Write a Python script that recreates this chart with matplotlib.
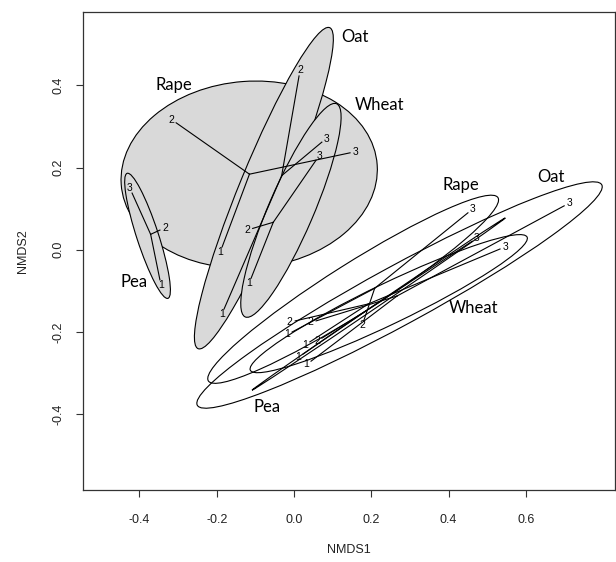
import numpy as np
import matplotlib
matplotlib.use("Agg")
import matplotlib.pyplot as plt
from matplotlib.patches import Ellipse

plt.rcParams["font.family"] = ["Liberation Sans", "DejaVu Sans"]
plt.rcParams["axes.unicode_minus"] = False

crops = ["Pea", "Rape", "Oat", "Wheat"]
samples = ["1", "2", "3"]

# NMDS scores of the shaded set, samples 1, 2, 3 per crop
shaded_x = {
    "Pea": [-0.347, -0.347, -0.419],
    "Rape": [-0.186, -0.305, 0.145],
    "Oat": [-0.181, 0.013, 0.072],
    "Wheat": [-0.111, -0.107, 0.057],
}
shaded_y = {
    "Pea": [-0.073, 0.048, 0.138],
    "Rape": [0.007, 0.309, 0.236],
    "Oat": [-0.144, 0.423, 0.262],
    "Wheat": [-0.069, 0.052, 0.218],
}
# NMDS scores of the open set
open_x = {
    "Pea": [0.023, 0.072, 0.461],
    "Rape": [-0.005, 0.181, 0.450],
    "Oat": [0.044, 0.057, 0.699],
    "Wheat": [0.041, 0.003, 0.533],
}
open_y = {
    "Pea": [-0.254, -0.215, 0.021],
    "Rape": [-0.200, -0.171, 0.090],
    "Oat": [-0.271, -0.173, 0.107],
    "Wheat": [-0.224, -0.173, 0.002],
}

# ellipse centre x, centre y, semi-axis a, semi-axis b, angle (deg)
shaded_ell = {
    "Rape": (-0.116, 0.183, 0.332, 0.227, 4),
    "Pea": (-0.379, 0.034, 0.161, 0.028, -70.8),
    "Oat": (-0.078, 0.150, 0.426, 0.062, 66.4),
    "Wheat": (-0.008, 0.096, 0.285, 0.058, 65.4),
}
open_ell = {
    "Pea": (0.219, -0.132, 0.389, 0.004, 32.6),
    "Rape": (0.153, -0.096, 0.436, 0.062, 30.7),
    "Oat": (0.273, -0.110, 0.588, 0.072, 27.1),
    "Wheat": (0.245, -0.131, 0.393, 0.050, 24.3),
}

# crop names written next to the ellipses
shaded_names = {"Oat": (0.158, 0.518), "Rape": (-0.312, 0.401),
                "Wheat": (0.222, 0.352), "Pea": (-0.414, -0.078)}
open_names = {"Rape": (0.431, 0.158), "Oat": (0.664, 0.178),
              "Wheat": (0.464, -0.142), "Pea": (-0.071, -0.382)}

FILL = "#d9d9d9"

fig = plt.figure(figsize=(6.16, 5.62), dpi=100)
ax = fig.add_axes([83 / 616, 1 - 490 / 562, 532 / 616, 478 / 562])


def draw_set(xs, ys, ell, names, filled):
    for crop, (cx, cy, a, b, ang) in ell.items():
        ax.add_patch(Ellipse((cx, cy), 2 * a, 2 * b, angle=ang,
                             facecolor=FILL if filled else "none",
                             edgecolor="black", lw=0.8, zorder=2))
    for crop in crops:
        x = np.array(xs[crop])
        y = np.array(ys[crop])
        mx, my = x.mean(), y.mean()
        for px, py, lab in zip(x, y, samples):
            ax.plot([mx, px], [my, py], color="black", lw=0.8, zorder=3)
            d = np.hypot(px - mx, py - my)
            ox, oy = (px - mx) / d * 4, (py - my) / d * 4
            ax.annotate(lab, (px, py), xytext=(ox, oy), textcoords="offset points",
                        ha="center", va="center", fontsize=7.5, zorder=4)
    for crop, (tx, ty) in names.items():
        ax.text(tx, ty, crop, ha="center", va="center", fontsize=12,
                family=["Lato", "DejaVu Sans"], zorder=4)


draw_set(shaded_x, shaded_y, shaded_ell, shaded_names, True)
draw_set(open_x, open_y, open_ell, open_names, False)

ax.set_xlim(-0.546, 0.8305)
ax.set_ylim(-0.5844, 0.5786)
ax.set_xticks([-0.4, -0.2, 0.0, 0.2, 0.4, 0.6])
ax.set_yticks([-0.4, -0.2, 0.0, 0.2, 0.4])
ax.set_xticklabels(["-0.4", "-0.2", "0.0", "0.2", "0.4", "0.6"])
ax.set_yticklabels(["-0.4", "-0.2", "0.0", "0.2", "0.4"], rotation=90, va="center")
ax.tick_params(direction="out", length=5, width=0.8, colors="#333333",
               labelcolor="#222222", labelsize=9)
ax.tick_params(axis="x", pad=12)
ax.tick_params(axis="y", pad=8)
for s in ax.spines.values():
    s.set_color("#333333")
    s.set_linewidth(0.9)
ax.set_xlabel("NMDS1", fontsize=9, labelpad=13, color="#222222")
ax.set_ylabel("NMDS2", fontsize=9, labelpad=17, color="#222222")

fig.savefig("out.png", dpi=100)
